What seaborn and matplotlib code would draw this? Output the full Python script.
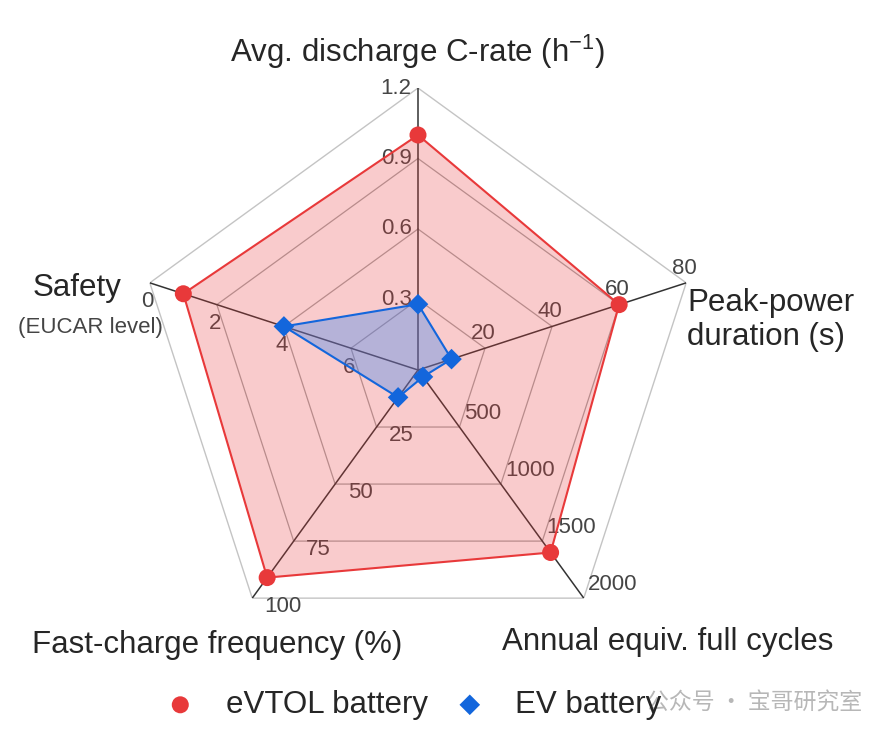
import numpy as np
import pandas as pd
import seaborn as sns
import matplotlib
matplotlib.use('Agg')
from matplotlib import pyplot as plt

# axes of the radar, clockwise from the top
axis_names = ['Avg. discharge C-rate (h$^{-1}$)', 'Peak-power\nduration (s)',
              'Annual equiv. full cycles', 'Fast-charge frequency (%)', 'Safety']
axis_max = [1.2, 80, 2000, 100, 8]
axis_reversed = [False, False, False, False, True]
axis_ticks = [[0.3, 0.6, 0.9, 1.2], [20, 40, 60, 80], [500, 1000, 1500, 2000],
              [25, 50, 75, 100], [6, 4, 2, 0]]
axis_ticklabels = [['0.3', '0.6', '0.9', '1.2'], ['20', '40', '60', '80'],
                   ['500', '1000', '1500', '2000'], ['25', '50', '75', '100'],
                   ['6', '4', '2', '0']]

evtol = [1.0, 60, 1600, 91, 1]
ev = [0.28, 10, 60, 12, 4]

red = '#e8393a'
blue = '#1366dc'

sns.set_style('white')
plt.rcParams['font.family'] = ['Liberation Sans', 'DejaVu Sans']
plt.rcParams['mathtext.fontset'] = 'custom'
plt.rcParams['mathtext.rm'] = 'Liberation Sans'
plt.rcParams['mathtext.it'] = 'Liberation Sans'


def to_r(v, i):
    return (axis_max[i] - v) / axis_max[i] if axis_reversed[i] else v / axis_max[i]


n = len(axis_names)
theta = np.arange(n) * 2 * np.pi / n
theta_c = np.append(theta, theta[0])

fig = plt.figure(figsize=(8.92, 7.38), dpi=100)
ax = fig.add_axes([136 / 892, 86 / 738, 564 / 892, 564 / 738], projection='polar')
ax.set_theta_offset(np.pi / 2)
ax.set_theta_direction(-1)
ax.set_ylim(0, 1)
ax.grid(False)
ax.spines['polar'].set_visible(False)
ax.set_xticks([])
ax.set_yticks([])
ax.patch.set_alpha(0)

# pentagon rings and spokes
for lev in [0.25, 0.5, 0.75]:
    ax.plot(theta_c, [lev] * (n + 1), color='#a8a8a8', lw=0.9, zorder=1)
ax.plot(theta_c, [1] * (n + 1), color='#c4c4c4', lw=1.0, zorder=1)
for t in theta:
    ax.plot([t, t], [0, 1], color='#333333', lw=1.1, zorder=1)

# tick labels (offset in points, ha, va)
tick_style = [((-4.5, 0), 'right', 'center'),
              ((-1.5, 3), 'center', 'bottom'),
              ((3, 10), 'left', 'center'),
              ((9, -6), 'left', 'center'),
              ((-1.5, -6), 'center', 'top')]
for i in range(n):
    (dx, dy), ha, va = tick_style[i]
    for v, lab in zip(axis_ticks[i], axis_ticklabels[i]):
        ax.annotate(lab, xy=(theta[i], to_r(v, i)), xytext=(dx, dy), textcoords='offset points',
                    ha=ha, va=va, fontsize=16, color='#454545', zorder=1,
                    annotation_clip=False)

# filled polygons
r_e = np.array([to_r(v, i) for i, v in enumerate(evtol)])
r_v = np.array([to_r(v, i) for i, v in enumerate(ev)])
ax.fill(theta_c, np.append(r_e, r_e[0]), color=red, alpha=0.26, lw=0, zorder=2)
ax.plot(theta_c, np.append(r_e, r_e[0]), color=red, lw=1.5, zorder=3)
ax.fill(theta_c, np.append(r_v, r_v[0]), color='#3f86f0', alpha=0.36, lw=0, zorder=3)
ax.plot(theta_c, np.append(r_v, r_v[0]), color=blue, lw=1.5, zorder=4)

df_e = pd.DataFrame({'theta': theta, 'r': r_e})
df_v = pd.DataFrame({'theta': theta, 'r': r_v})
sns.scatterplot(data=df_e, x='theta', y='r', ax=ax, color=red, marker='o', s=150,
                edgecolor='none', zorder=5, label='eVTOL battery')
sns.scatterplot(data=df_v, x='theta', y='r', ax=ax, color=blue, marker='D', s=110,
                edgecolor='none', zorder=5, label='EV battery')
ax.set_xlabel('')
ax.set_ylabel('')
ax.set_ylim(0, 1)

# axis titles
fs = 22.5
fig.text(418 / 892, 1 - 52 / 738, axis_names[0], ha='center', va='center', fontsize=fs)
fig.text(687 / 892, 1 - 320 / 738, axis_names[1], ha='left', va='center', fontsize=fs,
         linespacing=1.2)
fig.text(668 / 892, 1 - 642 / 738, axis_names[2], ha='center', va='center', fontsize=fs)
fig.text(217 / 892, 1 - 645 / 738, axis_names[3], ha='center', va='center', fontsize=fs)
fig.text(77 / 892, 1 - 288 / 738, axis_names[4], ha='center', va='center', fontsize=fs)
fig.text(90 / 892, 1 - 328 / 738, '(EUCAR level)', ha='center', va='center', fontsize=16,
         color='#444444')

h, l = ax.get_legend_handles_labels()
ax.get_legend().remove()
fig.legend(h, l, loc='center', bbox_to_anchor=(413 / 892, 1 - 705 / 738), ncol=2,
           frameon=False, fontsize=22.5, handlelength=1.0, handletextpad=0.95,
           columnspacing=0.85, markerscale=1.0)

# watermark
fig.text(754 / 892, 1 - 703 / 738, '公众号 · 宝哥研究室', ha='center', va='center',
         fontsize=16.5, color='#b0b0b0', family=['Noto Sans CJK SC', 'DejaVu Sans'],
         alpha=0.9)

fig.savefig('out.png', dpi=100)
